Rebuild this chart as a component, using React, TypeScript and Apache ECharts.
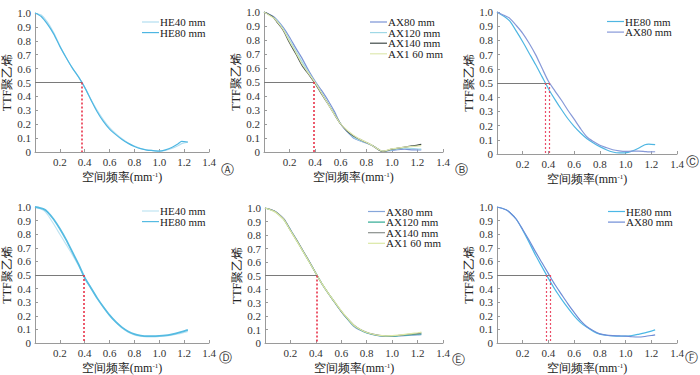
import React, { useEffect, useRef } from "react";
import * as echarts from "echarts";

// ---------- data ----------
const X_A = [0, 0.05, 0.1, 0.15, 0.2, 0.25, 0.3, 0.35, 0.4, 0.45, 0.5, 0.55, 0.6, 0.65, 0.7, 0.75, 0.8, 0.85, 0.9, 0.95, 1.0, 1.05, 1.1, 1.15, 1.18, 1.23];
const A_HE40 = [1.0, 0.985, 0.935, 0.86, 0.765, 0.68, 0.605, 0.54, 0.465, 0.38, 0.3, 0.232, 0.176, 0.132, 0.095, 0.065, 0.042, 0.025, 0.015, 0.01, 0.007, 0.012, 0.025, 0.045, 0.06, 0.07];
const A_HE80 = [1.0, 0.975, 0.92, 0.85, 0.76, 0.68, 0.605, 0.54, 0.465, 0.375, 0.29, 0.22, 0.165, 0.125, 0.09, 0.062, 0.04, 0.024, 0.014, 0.01, 0.006, 0.015, 0.032, 0.058, 0.076, 0.072];

const X_B = [0, 0.07, 0.1, 0.15, 0.2, 0.25, 0.3, 0.35, 0.4, 0.45, 0.5, 0.55, 0.6, 0.65, 0.7, 0.75, 0.8, 0.85, 0.93, 1.0, 1.1, 1.17, 1.23];
const B_AX80 = [1.0, 0.97, 0.945, 0.89, 0.82, 0.74, 0.665, 0.58, 0.505, 0.44, 0.37, 0.29, 0.2, 0.145, 0.1, 0.08, 0.065, 0.045, 0.004, 0.012, 0.02, 0.015, 0.015];
const B_AX120 = [1.0, 0.965, 0.94, 0.88, 0.8, 0.72, 0.64, 0.565, 0.495, 0.425, 0.35, 0.275, 0.2, 0.15, 0.105, 0.082, 0.066, 0.045, 0.004, 0.015, 0.028, 0.025, 0.02];
const B_AX140 = [1.0, 0.965, 0.93, 0.87, 0.78, 0.7, 0.615, 0.555, 0.49, 0.415, 0.345, 0.27, 0.2, 0.15, 0.115, 0.09, 0.068, 0.045, 0.004, 0.02, 0.035, 0.045, 0.055];
const B_AX160 = [1.0, 0.96, 0.935, 0.875, 0.79, 0.71, 0.625, 0.56, 0.495, 0.42, 0.345, 0.27, 0.2, 0.155, 0.12, 0.092, 0.07, 0.045, 0.006, 0.022, 0.035, 0.04, 0.045];

const X_C = [0, 0.07, 0.1, 0.15, 0.2, 0.25, 0.3, 0.35, 0.4, 0.45, 0.5, 0.55, 0.6, 0.65, 0.7, 0.75, 0.8, 0.85, 0.9, 0.95, 1.0, 1.05, 1.1, 1.15, 1.18, 1.23];
const C_HE80 = [1.0, 0.96, 0.935, 0.865, 0.79, 0.71, 0.63, 0.545, 0.46, 0.385, 0.315, 0.25, 0.195, 0.148, 0.108, 0.078, 0.052, 0.03, 0.014, 0.008, 0.008, 0.02, 0.04, 0.065, 0.07, 0.066];
const C_AX80 = [1.0, 0.97, 0.955, 0.905, 0.85, 0.78, 0.7, 0.605, 0.512, 0.445, 0.38, 0.31, 0.245, 0.178, 0.12, 0.088, 0.062, 0.045, 0.03, 0.022, 0.018, 0.02, 0.02, 0.017, 0.015, 0.016];

const X_D = [0, 0.07, 0.1, 0.15, 0.2, 0.25, 0.3, 0.35, 0.4, 0.45, 0.5, 0.55, 0.6, 0.65, 0.7, 0.75, 0.8, 0.85, 0.9, 0.95, 1.0, 1.05, 1.1, 1.15, 1.2, 1.23];
const D_HE40 = [1.0, 0.975, 0.945, 0.875, 0.8, 0.725, 0.65, 0.57, 0.48, 0.405, 0.33, 0.265, 0.205, 0.155, 0.11, 0.08, 0.06, 0.05, 0.045, 0.045, 0.048, 0.052, 0.058, 0.066, 0.078, 0.086];
const D_HE80 = [1.0, 0.985, 0.965, 0.91, 0.84, 0.76, 0.67, 0.58, 0.48, 0.405, 0.33, 0.265, 0.205, 0.155, 0.115, 0.085, 0.065, 0.055, 0.05, 0.05, 0.052, 0.056, 0.064, 0.074, 0.087, 0.096];

const X_E = [0, 0.07, 0.1, 0.15, 0.2, 0.25, 0.3, 0.35, 0.41, 0.45, 0.5, 0.55, 0.6, 0.65, 0.7, 0.75, 0.8, 0.85, 0.9, 0.95, 1.0, 1.05, 1.1, 1.15, 1.2, 1.23];
const E_AX80 = [1.0, 0.98, 0.962, 0.918, 0.84, 0.762, 0.682, 0.602, 0.5, 0.435, 0.365, 0.298, 0.232, 0.175, 0.122, 0.094, 0.074, 0.062, 0.053, 0.05, 0.05, 0.052, 0.055, 0.058, 0.06, 0.062];
const E_AX120 = [1.0, 0.978, 0.958, 0.912, 0.835, 0.758, 0.678, 0.598, 0.5, 0.435, 0.365, 0.3, 0.235, 0.178, 0.128, 0.098, 0.076, 0.063, 0.054, 0.051, 0.051, 0.054, 0.058, 0.062, 0.066, 0.068];
const E_AX140 = [1.0, 0.98, 0.96, 0.915, 0.835, 0.76, 0.68, 0.6, 0.5, 0.435, 0.365, 0.3, 0.235, 0.18, 0.132, 0.1, 0.08, 0.066, 0.056, 0.052, 0.052, 0.056, 0.062, 0.066, 0.07, 0.075];
const E_AX160 = [1.0, 0.975, 0.955, 0.91, 0.832, 0.755, 0.676, 0.596, 0.5, 0.436, 0.366, 0.302, 0.238, 0.182, 0.13, 0.1, 0.078, 0.065, 0.056, 0.053, 0.054, 0.058, 0.064, 0.07, 0.076, 0.08];

const X_F = [0, 0.07, 0.1, 0.15, 0.2, 0.25, 0.3, 0.35, 0.4, 0.45, 0.5, 0.55, 0.6, 0.65, 0.7, 0.75, 0.8, 0.85, 0.9, 0.95, 1.0, 1.05, 1.1, 1.15, 1.2, 1.23];
const F_HE80 = [1.0, 0.98, 0.96, 0.91, 0.83, 0.74, 0.645, 0.56, 0.475, 0.395, 0.325, 0.26, 0.2, 0.15, 0.115, 0.085, 0.065, 0.057, 0.052, 0.05, 0.05, 0.055, 0.064, 0.074, 0.087, 0.096];
const F_AX80 = [1.0, 0.98, 0.96, 0.91, 0.835, 0.755, 0.67, 0.59, 0.51, 0.43, 0.36, 0.29, 0.225, 0.165, 0.12, 0.09, 0.067, 0.058, 0.054, 0.052, 0.05, 0.046, 0.044, 0.048, 0.055, 0.06];

const CROSS_A = [0.38];
const CROSS_B = [0.39];
const CROSS_C = [0.373, 0.407];
const CROSS_D = [0.39];
const CROSS_E = [0.41];
const CROSS_F = [0.386, 0.412];

const PANEL_LABELS = ["Ⓐ", "Ⓑ", "Ⓒ", "Ⓓ", "Ⓔ", "Ⓕ"];
const Y_NAME = "TTF聚乙烯";
const X_NAME = "空间频率(mm{sup|-1})";

// ---------- layout / styles ----------
const SERIF = "Liberation Serif";

type S = { name: string; xs: number[]; ys: number[]; color: string; width?: number };
type P = {
  grid: { left: number; top: number; width: number; height: number };
  legend: { x: number; y: number };
  label: { x: number; y: number };
  series: S[];
  cross: number[];
  red: string;
  redWidth: number;
};

const panels: P[] = [
  {
    grid: { left: 31, top: 13, width: 178, height: 139 },
    legend: { x: 142, y: 22 },
    label: { x: 221, y: 163 },
    series: [
      { name: "HE40 mm", xs: X_A, ys: A_HE40, color: "#b3def0" },
      { name: "HE80 mm", xs: X_A, ys: A_HE80, color: "#4db6e2" },
    ],
    cross: CROSS_A,
    red: "#e8334a",
    redWidth: 1.6,
  },
  {
    grid: { left: 264, top: 12, width: 179, height: 140 },
    legend: { x: 370, y: 22 },
    label: { x: 455, y: 163 },
    series: [
      { name: "AX80 mm", xs: X_B, ys: B_AX80, color: "#7b93d6" },
      { name: "AX120 mm", xs: X_B, ys: B_AX120, color: "#9fd8e6" },
      { name: "AX140 mm", xs: X_B, ys: B_AX140, color: "#3f4a48" },
      { name: "AX1 60 mm", xs: X_B, ys: B_AX160, color: "#dfe9b0" },
    ],
    cross: CROSS_B,
    red: "#e8334a",
    redWidth: 1.6,
  },
  {
    grid: { left: 497, top: 12, width: 180, height: 142 },
    legend: { x: 607, y: 21.5 },
    label: { x: 686, y: 155 },
    series: [
      { name: "HE80 mm", xs: X_C, ys: C_HE80, color: "#4fb6e2" },
      { name: "AX80 mm", xs: X_C, ys: C_AX80, color: "#8799d8" },
    ],
    cross: CROSS_C,
    red: "#ea4d68",
    redWidth: 1.2,
  },
  {
    grid: { left: 31, top: 207, width: 178, height: 140 },
    legend: { x: 142, y: 211 },
    label: { x: 219, y: 351 },
    series: [
      { name: "HE40 mm", xs: X_D, ys: D_HE40, color: "#c0e4f2" },
      { name: "HE80 mm", xs: X_D, ys: D_HE80, color: "#55bbe2", width: 1.8 },
    ],
    cross: CROSS_D,
    red: "#e8334a",
    redWidth: 1.6,
  },
  {
    grid: { left: 265, top: 208, width: 178, height: 140 },
    legend: { x: 368, y: 211.5 },
    label: { x: 452, y: 353 },
    series: [
      { name: "AX80 mm", xs: X_E, ys: E_AX80, color: "#86a6da" },
      { name: "AX120 mm", xs: X_E, ys: E_AX120, color: "#2eaa92" },
      { name: "AX140 mm", xs: X_E, ys: E_AX140, color: "#8a8f8c" },
      { name: "AX1 60 mm", xs: X_E, ys: E_AX160, color: "#dbe8a4" },
    ],
    cross: CROSS_E,
    red: "#e8334a",
    redWidth: 1.6,
  },
  {
    grid: { left: 497, top: 207, width: 180, height: 140 },
    legend: { x: 608, y: 211.5 },
    label: { x: 685, y: 351 },
    series: [
      { name: "HE80 mm", xs: X_F, ys: F_HE80, color: "#4cb8e6" },
      { name: "AX80 mm", xs: X_F, ys: F_AX80, color: "#6e8cd6" },
    ],
    cross: CROSS_F,
    red: "#ea4d68",
    redWidth: 1.2,
  },
];

const ROW_H = 10.6;

function buildOption() {
  const grid: any[] = [];
  const xAxis: any[] = [];
  const yAxis: any[] = [];
  const series: any[] = [];
  const graphic: any[] = [];

  panels.forEach((p, i) => {
    grid.push({ ...p.grid, containLabel: false });
    xAxis.push({
      type: "value",
      gridIndex: i,
      min: 0,
      max: 1.4,
      interval: 0.2,
      splitLine: { show: false },
      axisLine: { show: true, onZero: false, lineStyle: { color: "#9a9a9a", width: 1 } },
      axisTick: { show: true, inside: true, length: 3, lineStyle: { color: "#9a9a9a" } },
      axisLabel: {
        margin: 4,
        color: "#333",
        fontSize: 11,
        fontFamily: SERIF,
        formatter: (v: number) => (v === 0 ? "" : v.toFixed(1)),
      },
      name: X_NAME,
      nameLocation: "middle",
      nameGap: 19,
      nameTextStyle: {
        color: "#222",
        fontSize: 12,
        fontFamily: SERIF,
        rich: { sup: { fontSize: 7, verticalAlign: "top", padding: [0, 0, 5, 0], fontFamily: SERIF, color: "#222" } },
      },
    });
    yAxis.push({
      type: "value",
      gridIndex: i,
      min: 0,
      max: 1,
      interval: 0.1,
      splitLine: { show: false },
      axisLine: { show: true, lineStyle: { color: "#9a9a9a", width: 1 } },
      axisTick: { show: true, inside: true, length: 3, lineStyle: { color: "#9a9a9a" } },
      axisLabel: {
        margin: 4,
        color: "#333",
        fontSize: 11,
        fontFamily: SERIF,
        formatter: (v: number) => (v === 0 ? "0" : v.toFixed(1)),
      },
      name: Y_NAME,
      nameLocation: "middle",
      nameGap: 22,
      nameTextStyle: { color: "#222", fontSize: 12, fontFamily: SERIF },
    });

    const maxCross = Math.max(...p.cross);
    p.series.forEach((s, k) => {
      const item: any = {
        type: "line",
        name: s.name,
        xAxisIndex: i,
        yAxisIndex: i,
        data: s.xs.map((x, j) => [x, s.ys[j]]),
        showSymbol: false,
        symbol: "none",
        smooth: 0.25,
        lineStyle: { color: s.color, width: s.width ?? 1.2 },
        itemStyle: { color: s.color },
        z: 3,
      };
      if (k === 0) {
        item.markLine = {
          silent: true,
          symbol: ["none", "none"],
          label: { show: false },
          animation: false,
          data: [
            [
              { coord: [0, 0.5], lineStyle: { color: "#7a7a7a", width: 1, type: "solid" } },
              { coord: [maxCross, 0.5] },
            ],
            ...p.cross.map((cx) => [
              { coord: [cx, 0.5], lineStyle: { color: p.red, width: p.redWidth, type: [2, 2] } },
              { coord: [cx, 0] },
            ]),
          ],
        };
      }
      series.push(item);

      // legend entry drawn as graphic
      const y = p.legend.y + k * ROW_H;
      graphic.push({
        type: "line",
        silent: true,
        shape: { x1: p.legend.x, y1: y, x2: p.legend.x + 17, y2: y },
        style: { stroke: s.color, lineWidth: 1.2 },
      });
      graphic.push({
        type: "text",
        silent: true,
        x: p.legend.x + 18,
        y: y,
        style: { text: s.name, fill: "#222", font: "11px 'Liberation Serif'", textVerticalAlign: "middle", verticalAlign: "middle" },
      });
    });

    graphic.push({
      type: "text",
      left: p.label.x,
      top: p.label.y,
      style: { text: PANEL_LABELS[i], fill: "#333", font: "13px 'DejaVu Sans'" },
    });
  });

  return {
    animation: false,
    backgroundColor: "#fff",
    grid,
    xAxis,
    yAxis,
    series,
    graphic,
  };
}

export default function App() {
  const ref = useRef<HTMLDivElement>(null);
  useEffect(() => {
    if (!ref.current) return;
    const chart = echarts.init(ref.current, undefined, { renderer: "svg" });
    chart.setOption(buildOption() as any);
    return () => chart.dispose();
  }, []);
  return <div ref={ref} style={{ width: 700, height: 375, position: "absolute", left: 0, top: 0 }} />;
}
